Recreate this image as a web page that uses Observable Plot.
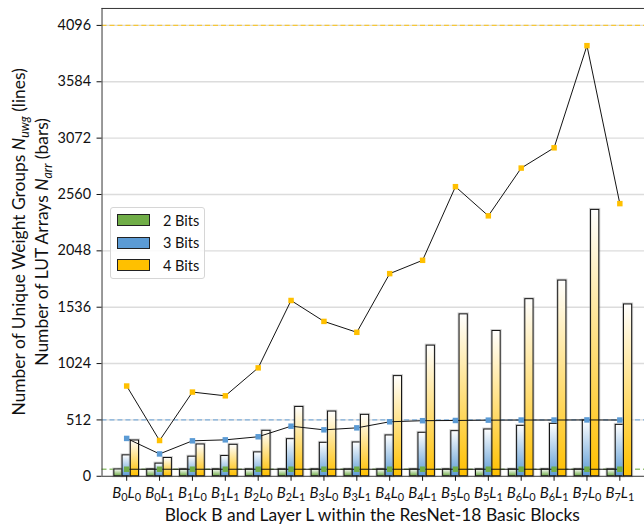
<!DOCTYPE html>
<html>
<head>
<meta charset="utf-8">
<script src="https://cdn.jsdelivr.net/npm/d3@7"></script>
<script src="https://cdn.jsdelivr.net/npm/@observablehq/plot@0.6"></script>
<style>
  html, body { margin: 0; padding: 0; background: #fff; }
  #chart { position: relative; width: 644px; height: 529px; overflow: hidden; font-family: Lato, "Open Sans", sans-serif; }
  #legend { position: absolute; left: 110px; top: 207px; width: 95px; height: 72px; box-sizing: border-box;
            border: 1px solid #d6d6d6; border-radius: 3px; background: rgba(255,255,255,0.85); color: #111; font-size: 14.5px; }
  #legend .row { position: absolute; left: 6px; height: 14px; display: flex; align-items: center; }
  #legend .sw { width: 33px; height: 12px; box-sizing: border-box; border: 1px solid #222; }
  #legend .lab { margin-left: 13px; }
</style>
</head>
<body>
<div id="chart">
  <svg width="0" height="0" style="position:absolute">
    <defs>
      <linearGradient id="grad2" x1="0" y1="0" x2="0" y2="1"><stop offset="0" stop-color="#ffffff"/><stop offset="1" stop-color="#70ad47"/></linearGradient>
      <linearGradient id="grad3" x1="0" y1="0" x2="0" y2="1"><stop offset="0" stop-color="#ffffff"/><stop offset="1" stop-color="#5b9bd5"/></linearGradient>
      <linearGradient id="grad4" x1="0" y1="0" x2="0" y2="1"><stop offset="0" stop-color="#ffffff"/><stop offset="1" stop-color="#ffc000"/></linearGradient>
    </defs>
  </svg>
  <div id="legend"></div>
</div>
<script>
// Layers of the ResNet-18 basic blocks (block B, layer L)
const tickLabels = ["B0L0","B0L1","B1L0","B1L1","B2L0","B2L1","B3L0","B3L1",
                    "B4L0","B4L1","B5L0","B5L1","B6L0","B6L1","B7L0","B7L1"];
const bitLabels = ["2 Bits", "3 Bits", "4 Bits"];
const bitColors = ["#70ad47", "#5b9bd5", "#ffc000"];
const bitGradients = ["url(#grad2)", "url(#grad3)", "url(#grad4)"];
// Upper bound on unique groups of three weights: (2^bits)^3
const maxGroups = [64, 512, 4096];
const yTicks = [0, 512, 1024, 1536, 2048, 2560, 3072, 3584, 4096];

// Number of unique weight groups N_uwg (lines)
const uwg2 = [64,64,64,64,64,64,64,64,64,64,64,64,64,64,64,64];
const uwg3 = [344,203,322,331,359,455,422,440,495,505,507,510,511,511,512,511];
const uwg4 = [820,325,765,731,985,1597,1407,1308,1841,1962,2631,2366,2800,2984,3912,2477];

// Number of LUT arrays N_arr (bars)
const arr2 = [62,62,62,62,62,62,62,62,62,62,62,62,62,62,62,62];
const arr3 = [190,115,178,184,217,337,304,307,371,395,410,425,458,476,506,467];
const arr4 = [325,166,289,286,413,630,588,558,910,1187,1471,1320,1609,1778,2420,1561];

const uwgSeries = [uwg2, uwg3, uwg4];
const arrSeries = [arr2, arr3, arr4];
const barWidth = 0.25;
const offsets = [-0.25, 0, 0.25];

const barMarks = [], lineMarks = [];
arrSeries.forEach((vals, s) => {
  const rows = vals.map((v, i) => ({i, v}));
  barMarks.push(Plot.rect(rows, {
    x1: d => d.i + offsets[s] - barWidth / 2, x2: d => d.i + offsets[s] + barWidth / 2,
    y1: 0, y2: "v", fill: "none", stroke: "#9a9a9a", strokeOpacity: 0.45, strokeWidth: 3
  }));
  barMarks.push(Plot.rect(rows, {
    x1: d => d.i + offsets[s] - barWidth / 2, x2: d => d.i + offsets[s] + barWidth / 2,
    y1: 0, y2: "v", fill: bitGradients[s], stroke: "#111", strokeWidth: 1
  }));
});
uwgSeries.forEach((vals, s) => {
  const rows = vals.map((v, i) => ({i, v}));
  lineMarks.push(Plot.line(rows, {x: "i", y: "v", stroke: "#111", strokeWidth: 1}));
  lineMarks.push(Plot.dot(rows, {x: "i", y: "v", symbol: "square", r: 3.1, fill: bitColors[s], stroke: "none"}));
});

const limitRows = maxGroups.map((g, s) => ({g, color: bitColors[s]}));

const plot = Plot.plot({
  width: 647, height: 529,
  marginLeft: 102, marginRight: 0, marginTop: 8, marginBottom: 51,
  style: {fontFamily: "Lato, 'Open Sans', sans-serif", fontSize: "14px", color: "#111", background: "transparent"},
  x: {type: "linear", domain: [-0.75, 15.75]},
  y: {domain: [0, 4250]},
  marks: [
    Plot.ruleY(yTicks.filter(t => t > 0), {stroke: "#dcdcdc", strokeWidth: 1.4}),
    Plot.ruleY(limitRows, {y: "g", stroke: d => d.color, strokeOpacity: 0.75, strokeWidth: 1.3, strokeDasharray: "5,3"}),
    ...barMarks,
    ...lineMarks,
    Plot.ruleX([-0.75], {stroke: "#333", strokeWidth: 1}),
    Plot.ruleY([0, 4250], {stroke: "#333", strokeWidth: 1}),
    Plot.axisY({ticks: yTicks, tickFormat: d => String(d), tickSize: 5, tickPadding: 6, label: null, fontSize: 14.5}),
    Plot.axisX({ticks: d3.range(16), tickFormat: i => tickLabels[i], tickSize: 5, tickPadding: 6, label: null, fontSize: 15, className: "xlab"})
  ],
  color: {type: "identity"}
});

const chart = document.getElementById("chart");
chart.appendChild(plot);
const svg = plot.tagName.toLowerCase() === "svg" ? plot : plot.querySelector("svg");
const NS = "http://www.w3.org/2000/svg";

// Italic block/layer letters with subscript indices on the x tick labels
svg.querySelectorAll(".xlab text").forEach(t => {
  const s = t.textContent;
  const m = s.match(/^B(\d)L(\d)$/);
  if (!m) return;
  t.textContent = "";
  const parts = [["B", false], [m[1], true], ["L", false], [m[2], true]];
  let down = false;
  parts.forEach(([txt, sub]) => {
    const ts = document.createElementNS(NS, "tspan");
    ts.textContent = txt;
    if (sub) { ts.setAttribute("font-size", "11"); ts.setAttribute("dy", "3"); down = true; }
    else { ts.setAttribute("font-style", "italic"); if (down) { ts.setAttribute("dy", "-3"); down = false; } }
    t.appendChild(ts);
  });
});

function addText(parent, attrs, parts) {
  const t = document.createElementNS(NS, "text");
  for (const k in attrs) t.setAttribute(k, attrs[k]);
  parts.forEach(p => {
    const ts = document.createElementNS(NS, "tspan");
    ts.textContent = p.text;
    for (const k in (p.attrs || {})) ts.setAttribute(k, p.attrs[k]);
    t.appendChild(ts);
  });
  parent.appendChild(t);
  return t;
}

const labelFont = {"font-family": "Lato, 'Open Sans', sans-serif", "font-size": "17.5", fill: "#111", "text-anchor": "middle"};
addText(svg, {...labelFont, transform: "translate(25,243) rotate(-90)"}, [
  {text: "Number of Unique Weight Groups "},
  {text: "N", attrs: {"font-style": "italic"}},
  {text: "uwg", attrs: {"font-style": "italic", "font-size": "12.5", dy: "4"}},
  {text: " (lines)", attrs: {dy: "-4"}}
]);
addText(svg, {...labelFont, transform: "translate(48,243) rotate(-90)"}, [
  {text: "Number of LUT Arrays "},
  {text: "N", attrs: {"font-style": "italic"}},
  {text: "arr", attrs: {"font-style": "italic", "font-size": "12.5", dy: "4"}},
  {text: " (bars)", attrs: {dy: "-4"}}
]);
addText(svg, {...labelFont, x: 374, y: 523}, [
  {text: "Block B and Layer L within the ResNet-18 Basic Blocks"}
]);

// Legend
const legend = document.getElementById("legend");
bitLabels.forEach((lab, s) => {
  const row = document.createElement("div");
  row.className = "row";
  row.style.top = (5 + s * 22.5) + "px";
  row.innerHTML = `<div class="sw" style="background:${bitColors[s]}"></div><span class="lab">${lab}</span>`;
  legend.appendChild(row);
});
chart.appendChild(legend);
</script>
</body>
</html>
